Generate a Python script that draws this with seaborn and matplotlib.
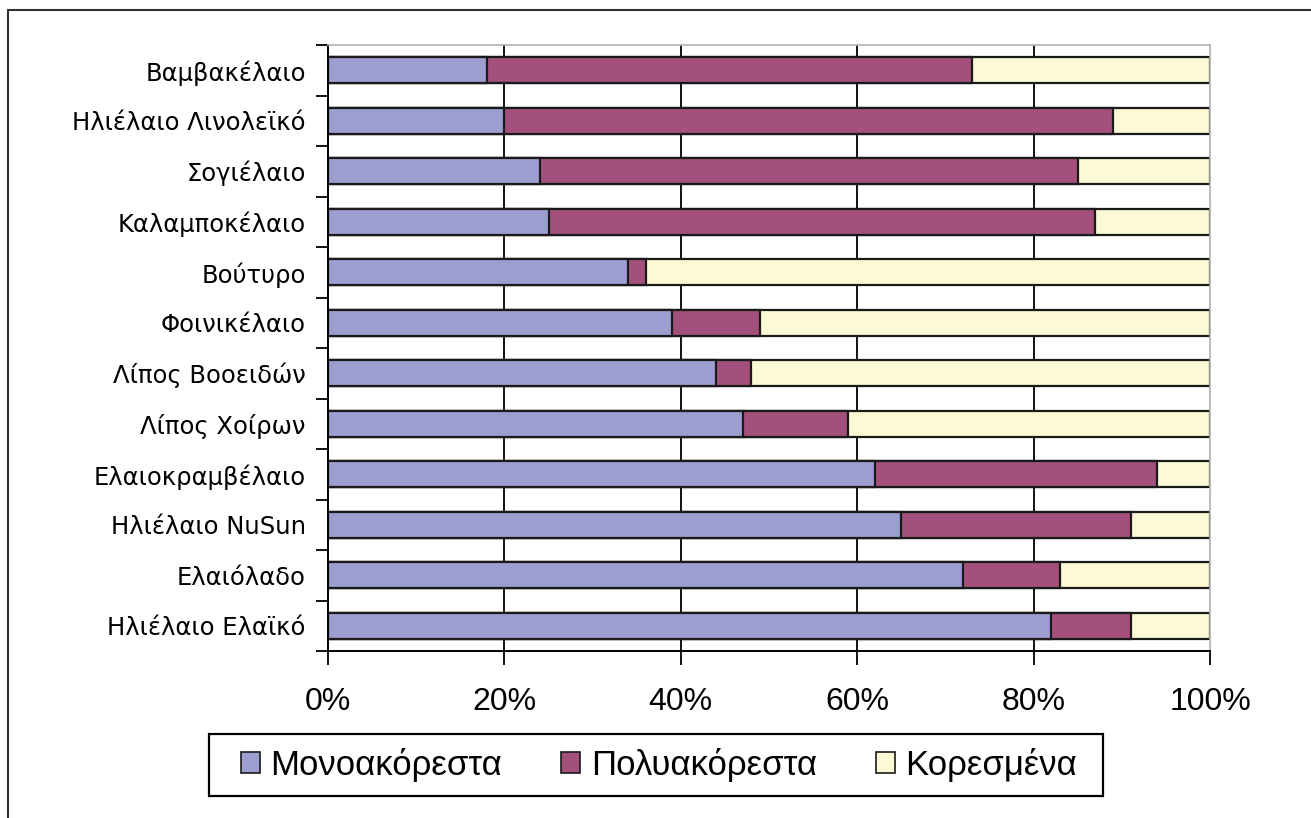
import matplotlib
matplotlib.use("Agg")
import matplotlib.pyplot as plt
from matplotlib import font_manager
from matplotlib.patches import Patch, Rectangle
from matplotlib.lines import Line2D
import seaborn as sns
import pandas as pd
import numpy as np

# Fatty-acid composition of common oils and fats (% of total)
oils = [
    "Βαμβακέλαιο",
    "Ηλιέλαιο Λινολεϊκό",
    "Σογιέλαιο",
    "Καλαμποκέλαιο",
    "Βούτυρο",
    "Φοινικέλαιο",
    "Λίπος Βοοειδών",
    "Λίπος Χοίρων",
    "Ελαιοκραμβέλαιο",
    "Ηλιέλαιο NuSun",
    "Ελαιόλαδο",
    "Ηλιέλαιο Ελαϊκό",
]
mono = [18, 20, 24, 25, 34, 39, 44, 47, 62, 65, 72, 82]
poly = [55, 69, 61, 62, 2, 10, 4, 12, 32, 26, 11, 9]
sat = [27, 11, 15, 13, 64, 51, 52, 41, 6, 9, 17, 9]

series_names = ["Μονοακόρεστα", "Πολυακόρεστα", "Κορεσμένα"]
colors = ["#9d9ed0", "#a3507c", "#fbfad4"]
x_ticks = [0, 20, 40, 60, 80, 100]
x_labels = ["0%", "20%", "40%", "60%", "80%", "100%"]

sns.set_theme(style="white")

available = {f.name for f in font_manager.fontManager.ttflist}
narrow = "Liberation Sans Narrow" if "Liberation Sans Narrow" in available else "Liberation Sans"
plt.rcParams["font.family"] = ["DejaVu Sans"]
plt.rcParams["text.color"] = "black"
plt.rcParams["xtick.color"] = "black"
plt.rcParams["ytick.color"] = "black"

W, H = 1311, 818

df = pd.DataFrame({"oil": oils, "mono": mono, "poly": poly, "sat": sat})
df["mono_poly"] = df["mono"] + df["poly"]
df["total"] = df["mono_poly"] + df["sat"]

fig = plt.figure(figsize=(W / 100, H / 100), dpi=100)
ax = fig.add_axes([328 / W, 1 - 651 / H, (1210 - 328) / W, (651 - 45) / H])

# Vertical grid behind the bars
for t in x_ticks[1:-1]:
    ax.axvline(t, color="black", lw=1.3, zorder=0)

# Stacked bars: draw cumulative totals from the back to the front
bar_kw = dict(orient="h", edgecolor="#1a1a1a", linewidth=1.6, width=0.52, ax=ax, zorder=2)
sns.barplot(data=df, x="total", y="oil", color=colors[2], saturation=1, **bar_kw)
sns.barplot(data=df, x="mono_poly", y="oil", color=colors[1], saturation=1, **bar_kw)
sns.barplot(data=df, x="mono", y="oil", color=colors[0], saturation=1, **bar_kw)

ax.set_xlim(0, 100)
ax.set_ylim(len(oils) - 0.5, -0.5)
ax.set_xlabel("")
ax.set_ylabel("")

ax.set_xticks(x_ticks)
ax.set_xticklabels(x_labels, fontsize=23, family=narrow, color="black")
ax.set_yticks(np.arange(len(oils)))
ax.set_yticklabels(oils, fontsize=17.5, color="black")
ax.tick_params(axis="y", length=0, pad=16)
ax.tick_params(axis="x", length=10, width=1.3, color="black", direction="out", pad=16,
               bottom=True)

# Minor ticks between categories on the y axis
ax.set_yticks(np.arange(-0.5, len(oils), 1), minor=True)
ax.tick_params(axis="y", which="minor", length=9, width=1.3, color="black",
               direction="out", left=True)

for side in ["top", "right"]:
    ax.spines[side].set_color("#b0b0b0")
    ax.spines[side].set_linewidth(1.2)
for side in ["bottom", "left"]:
    ax.spines[side].set_color("black")
    ax.spines[side].set_linewidth(1.4)

# Legend entries in one row, inside a plain rectangular frame
handles = [Patch(facecolor=c, edgecolor="#1a1a1a", linewidth=1.2) for c in colors]
leg = fig.legend(handles, series_names, loc="center",
                 bbox_to_anchor=(659 / W, 1 - 765 / H), ncol=3,
                 frameon=False, prop={"family": narrow, "size": 25},
                 handlelength=0.55, handleheight=0.55, handletextpad=0.3,
                 columnspacing=1.7, borderpad=0.2)
for txt in leg.get_texts():
    txt.set_color("black")
fig.add_artist(Rectangle((209 / W, 1 - 796 / H), (1103 - 209) / W, (796 - 734) / H,
                         transform=fig.transFigure, fill=False, edgecolor="black",
                         linewidth=1.6))

# Outer frame (left and top edges)
fig.add_artist(Line2D([8 / W, 8 / W], [0, 1 - 10 / H], transform=fig.transFigure,
                      color="#333333", lw=1.5))
fig.add_artist(Line2D([8 / W, 1], [1 - 10 / H, 1 - 10 / H], transform=fig.transFigure,
                      color="#333333", lw=1.5))

fig.savefig("out.png", dpi=100, facecolor="white")
